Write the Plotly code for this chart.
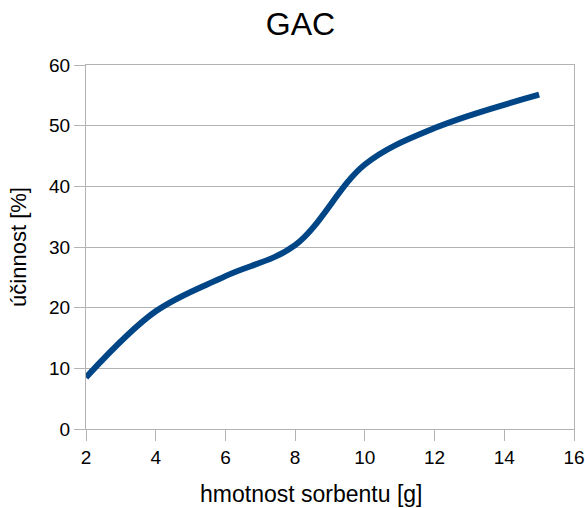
import plotly.graph_objects as go

mass_g = [2, 4, 6, 8, 10, 12, 15]
efficiency_pct = [8.5, 19.4, 25.2, 30.3, 43.6, 49.6, 55.1]
x_ticks = [2, 4, 6, 8, 10, 12, 14, 16]
y_ticks = [0, 10, 20, 30, 40, 50, 60]

FONT = "Liberation Sans, Arial, sans-serif"
GRID = "#b3b3b3"

fig = go.Figure()
fig.add_trace(go.Scatter(
    x=mass_g, y=efficiency_pct, mode="lines",
    line=dict(color="#004586", width=6, shape="spline", smoothing=1.0),
    hoverinfo="x+y", showlegend=False,
))

W, H = 585, 508
L, R, T, B = 86, 11, 65, 79
pw = W - L - R

fig.update_layout(
    width=W, height=H,
    margin=dict(l=L, r=R, t=T, b=B, pad=0, autoexpand=False),
    paper_bgcolor="white", plot_bgcolor="white",
    font=dict(family=FONT, color="black", size=19),
    title=dict(text="GAC", font=dict(size=32, family=FONT, color="black"),
               x=300.5 / W, xanchor="center", xref="container",
               y=1 - 24 / H, yanchor="middle", yref="container"),
    xaxis=dict(range=[2, 16], tickvals=x_ticks, showgrid=False, automargin=False,
               showline=True, linecolor=GRID, linewidth=1, mirror=True,
               ticks="outside", ticklen=11, tickcolor=GRID, tickwidth=1,
               zeroline=False, tickfont=dict(size=19, family=FONT)),
    yaxis=dict(range=[0, 60], tickvals=y_ticks, showgrid=True, automargin=False,
               gridcolor=GRID, gridwidth=1,
               showline=True, linecolor=GRID, linewidth=1, mirror=True,
               ticks="outside", ticklen=11, tickcolor=GRID, tickwidth=1,
               zeroline=False, tickfont=dict(size=19, family=FONT),
               title=dict(text="účinnost [%]", font=dict(size=22, family=FONT),
                          standoff=16)),
    annotations=[dict(text="hmotnost sorbentu [g]", xref="paper", yref="paper",
                      x=(310.5 - L) / pw, y=-(494 - (H - B)) / (H - T - B),
                      xanchor="center", yanchor="middle", showarrow=False,
                      font=dict(size=23, family=FONT, color="black"))],
)

fig.write_html("out.html")
